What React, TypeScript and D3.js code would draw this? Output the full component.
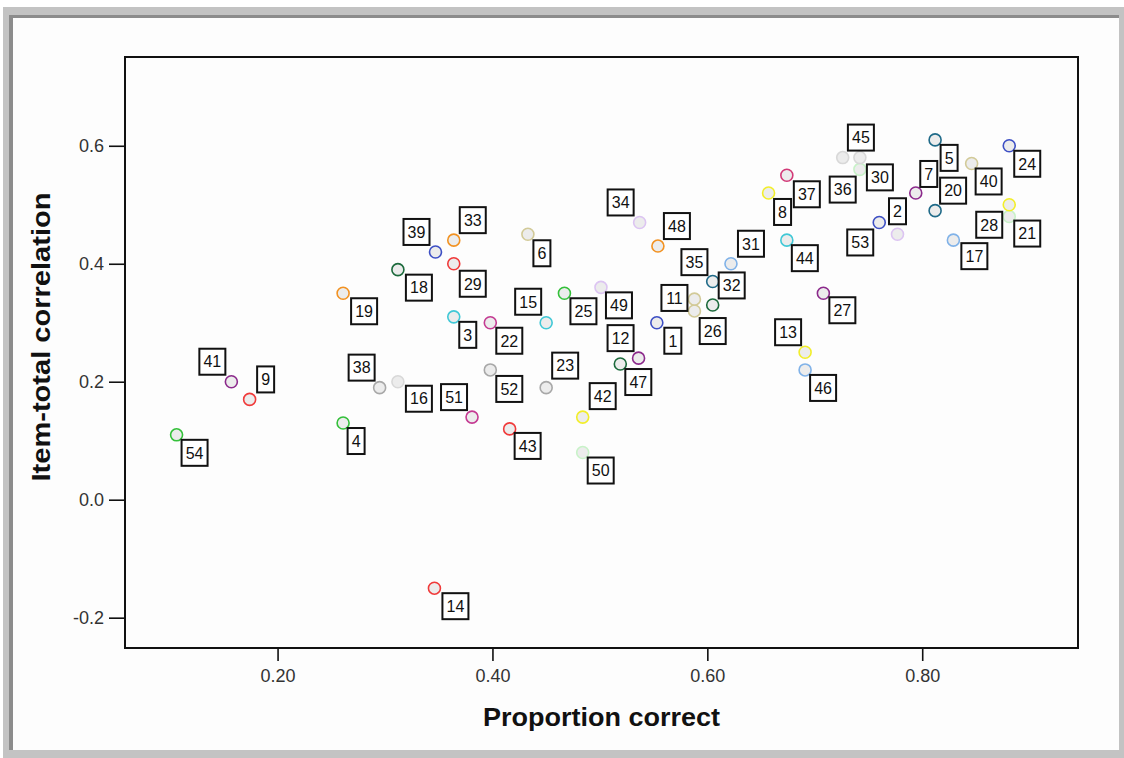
import React, { useRef, useEffect } from 'react';
import * as d3 from 'd3';

// item numbers (item 10 is not shown in the chart)
const items = [1, 2, 3, 4, 5, 6, 7, 8, 9, 11, 12, 13, 14, 15, 16, 17, 18, 19, 20, 21, 22, 23, 24, 25, 26, 27, 28, 29, 30, 31, 32, 33, 34, 35, 36, 37, 38, 39, 40, 41, 42, 43, 44, 45, 46, 47, 48, 49, 50, 51, 52, 53, 54];

const proportionCorrect = [0.553, 0.777, 0.364, 0.261, 0.812, 0.433, 0.794, 0.657, 0.174, 0.588, 0.536, 0.691, 0.346, 0.45, 0.312, 0.829, 0.312, 0.261, 0.812, 0.881, 0.398, 0.45, 0.881, 0.467, 0.605, 0.708, 0.881, 0.364, 0.742, 0.622, 0.605, 0.364, 0.537, 0.588, 0.726, 0.674, 0.295, 0.347, 0.846, 0.157, 0.484, 0.416, 0.674, 0.742, 0.691, 0.519, 0.554, 0.501, 0.484, 0.381, 0.398, 0.76, 0.106];

const itemTotal = [0.3, 0.45, 0.31, 0.13, 0.61, 0.45, 0.52, 0.52, 0.17, 0.32, 0.24, 0.25, -0.15, 0.3, 0.2, 0.44, 0.39, 0.35, 0.49, 0.48, 0.3, 0.19, 0.6, 0.35, 0.33, 0.35, 0.5, 0.4, 0.56, 0.4, 0.37, 0.44, 0.47, 0.34, 0.58, 0.55, 0.19, 0.42, 0.57, 0.2, 0.14, 0.12, 0.44, 0.58, 0.22, 0.23, 0.43, 0.36, 0.08, 0.14, 0.22, 0.47, 0.11];

const xTicks = [0.2, 0.4, 0.6, 0.8];
const yTicks = [-0.2, 0.0, 0.2, 0.4, 0.6];

// marker colours, by item
const C = {
	blue: '#3d4fc4', lavender: '#dcc4f2', cyan: '#40c8d6', green: '#34c03a', teal: '#1f6a88',
	khaki: '#d2ca98', purple: '#8c2a8c', yellow: '#f2ee2a', red: '#f03a3a', dkgreen: '#1c6a3c',
	orange: '#f29222', ltgreen: '#c8f2c8', magenta: '#c43a92', grey: '#a8a8a8', ltgrey: '#d8d8d8',
	ltblue: '#80b2e8', pink: '#d23a78',
};
const pointColor = {
	1: C.blue, 2: C.lavender, 3: C.cyan, 4: C.green, 5: C.teal, 6: C.khaki, 7: C.purple, 8: C.yellow, 9: C.red,
	11: C.khaki, 12: C.purple, 13: C.yellow, 14: C.red, 15: C.cyan, 16: C.ltgrey, 17: C.ltblue, 18: C.dkgreen,
	19: C.orange, 20: C.teal, 21: C.ltgreen, 22: C.magenta, 23: C.grey, 24: C.blue, 25: C.green, 26: C.dkgreen,
	27: C.purple, 28: C.yellow, 29: C.red, 30: C.ltgreen, 31: C.ltblue, 32: C.teal, 33: C.orange, 34: C.lavender,
	35: C.khaki, 36: C.ltgrey, 37: C.pink, 38: C.grey, 39: C.blue, 40: C.khaki, 41: C.purple, 42: C.yellow,
	43: C.red, 44: C.cyan, 45: C.ltgrey, 46: C.ltblue, 47: C.dkgreen, 48: C.orange, 49: C.lavender, 50: C.ltgreen,
	51: C.magenta, 52: C.grey, 53: C.blue, 54: C.green,
};

// where each label box sits relative to its marker (pixels)
const labelOffset = {
	1: [16, 18], 2: [0, -23], 3: [14, 18], 4: [13, 18], 5: [14, 18], 6: [14, 19], 7: [13, -19], 8: [14, 19],
	9: [16, -20], 11: [-20, -13], 12: [-18, -20], 13: [-17, -20], 14: [21, 18], 15: [-18, -21], 16: [21, 17],
	17: [21, 16], 18: [21, 18], 19: [21, 18], 20: [18, -20], 21: [18, 17], 22: [19, 18], 23: [19, -22],
	24: [18, 18], 25: [19, 18], 26: [0, 26], 27: [19, 17], 28: [-20, 20], 29: [19, 20], 30: [20, 8],
	31: [20, -20], 32: [19, 4], 33: [19, -20], 34: [-19, -20], 35: [0, -37], 36: [0, 32], 37: [20, 19],
	38: [-18, -20], 39: [-19, -20], 40: [17, 18], 41: [-19, -20], 42: [20, -21], 43: [18, 17], 44: [18, 18],
	45: [1, -20], 46: [18, 18], 47: [18, 18], 48: [19, -20], 49: [18, 18], 50: [18, 18], 51: [-18, -20],
	52: [19, 19], 53: [-19, 20], 54: [18, 18],
};

const font = 'Arial, "Liberation Sans", sans-serif';

export default function App() {
	const svgWidth = 1124;
	const svgHeight = 758;
	const chart = useRef(null);

	useEffect(() => {
		if (!chart.current) return;
		const plot = { left: 125, top: 57, right: 1078, bottom: 648 };

		const root = d3.select(chart.current);
		root.selectAll('*').remove();

		// window frame
		root.append('rect').attr('x', 0).attr('y', 0).attr('width', svgWidth).attr('height', svgHeight).attr('fill', '#ffffff');
		root.append('rect').attr('x', 3).attr('y', 7).attr('width', svgWidth - 3).attr('height', svgHeight - 7).attr('fill', '#c3c3c3');
		root.append('rect').attr('x', 9).attr('y', 15).attr('width', 1110).attr('height', 735).attr('fill', '#8c8c8c');
		root.append('rect').attr('x', 13).attr('y', 18).attr('width', 1106).attr('height', 732).attr('fill', '#fdfdfd');

		const xScale = d3.scaleLinear().domain([0.058, 0.945]).range([plot.left, plot.right]);
		const yScale = d3.scaleLinear().domain([-0.2514, 0.7505]).range([plot.bottom, plot.top]);

		// plain hyphen for negatives, as in the original
		const fmt1 = (d) => d3.format('.1f')(d).replace('\u2212', '-');
		const yAxis = d3.axisLeft(yScale).tickValues(yTicks).tickSize(16).tickPadding(5).tickFormat(fmt1);
		const xAxis = d3.axisBottom(xScale).tickValues(xTicks).tickSize(13).tickPadding(8).tickFormat(d3.format('.2f'));

		const gy = root.append('g').attr('transform', `translate(${plot.left},0)`).call(yAxis);
		const gx = root.append('g').attr('transform', `translate(0,${plot.bottom})`).call(xAxis);
		[gx, gy].forEach((g) => {
			g.select('.domain').remove();
			g.selectAll('line').attr('stroke', '#111').attr('stroke-width', 1.6);
			g.selectAll('text').style('font-family', font).style('font-size', '18px').attr('fill', '#333');
		});
		gx.selectAll('text').attr('dy', '0.71em');

		root.append('rect')
			.attr('x', plot.left).attr('y', plot.top)
			.attr('width', plot.right - plot.left).attr('height', plot.bottom - plot.top)
			.attr('fill', 'none').attr('stroke', '#111').attr('stroke-width', 2);

		const data = items.map((item, i) => ({ item, x: proportionCorrect[i], y: itemTotal[i] }));

		/* markers first, label boxes drawn over them */
		root.append('g').selectAll('circle').data(data).join('circle')
			.attr('cx', (d) => xScale(d.x))
			.attr('cy', (d) => yScale(d.y))
			.attr('r', 6)
			.attr('fill', '#ececec')
			.attr('stroke', (d) => pointColor[d.item])
			.attr('stroke-width', 1.6);

		const labels = root.append('g').selectAll('g').data(data).join('g')
			.attr('transform', (d) => `translate(${xScale(d.x) + labelOffset[d.item][0]},${yScale(d.y) + labelOffset[d.item][1]})`);
		labels.append('rect')
			.attr('x', (d) => (d.item < 10 ? -8.5 : -13))
			.attr('y', -13)
			.attr('width', (d) => (d.item < 10 ? 17 : 26))
			.attr('height', 26)
			.attr('fill', '#fff')
			.attr('stroke', '#111')
			.attr('stroke-width', 2);
		labels.append('text')
			.attr('text-anchor', 'middle')
			.attr('dy', '0.36em')
			.style('font-family', font)
			.style('font-size', '16px')
			.attr('fill', '#111')
			.text((d) => d.item);

		root.append('text')
			.attr('x', (plot.left + plot.right) / 2)
			.attr('y', 726)
			.attr('text-anchor', 'middle')
			.attr('textLength', 237)
			.attr('lengthAdjust', 'spacingAndGlyphs')
			.style('font-family', font)
			.style('font-weight', 'bold')
			.style('font-size', '25px')
			.attr('fill', '#111')
			.text('Proportion correct');

		root.append('text')
			.attr('transform', 'rotate(-90)')
			.attr('x', -337)
			.attr('y', 50)
			.attr('text-anchor', 'middle')
			.attr('textLength', 289)
			.attr('lengthAdjust', 'spacingAndGlyphs')
			.style('font-family', font)
			.style('font-weight', 'bold')
			.style('font-size', '25px')
			.attr('fill', '#111')
			.text('Item-total correlation');
	}, []);

	return (
		<div style={{ position: 'absolute', left: 0, top: 0 }}>
			<svg width={svgWidth} height={svgHeight} ref={chart} style={{ display: 'block' }} />
		</div>
	);
}
